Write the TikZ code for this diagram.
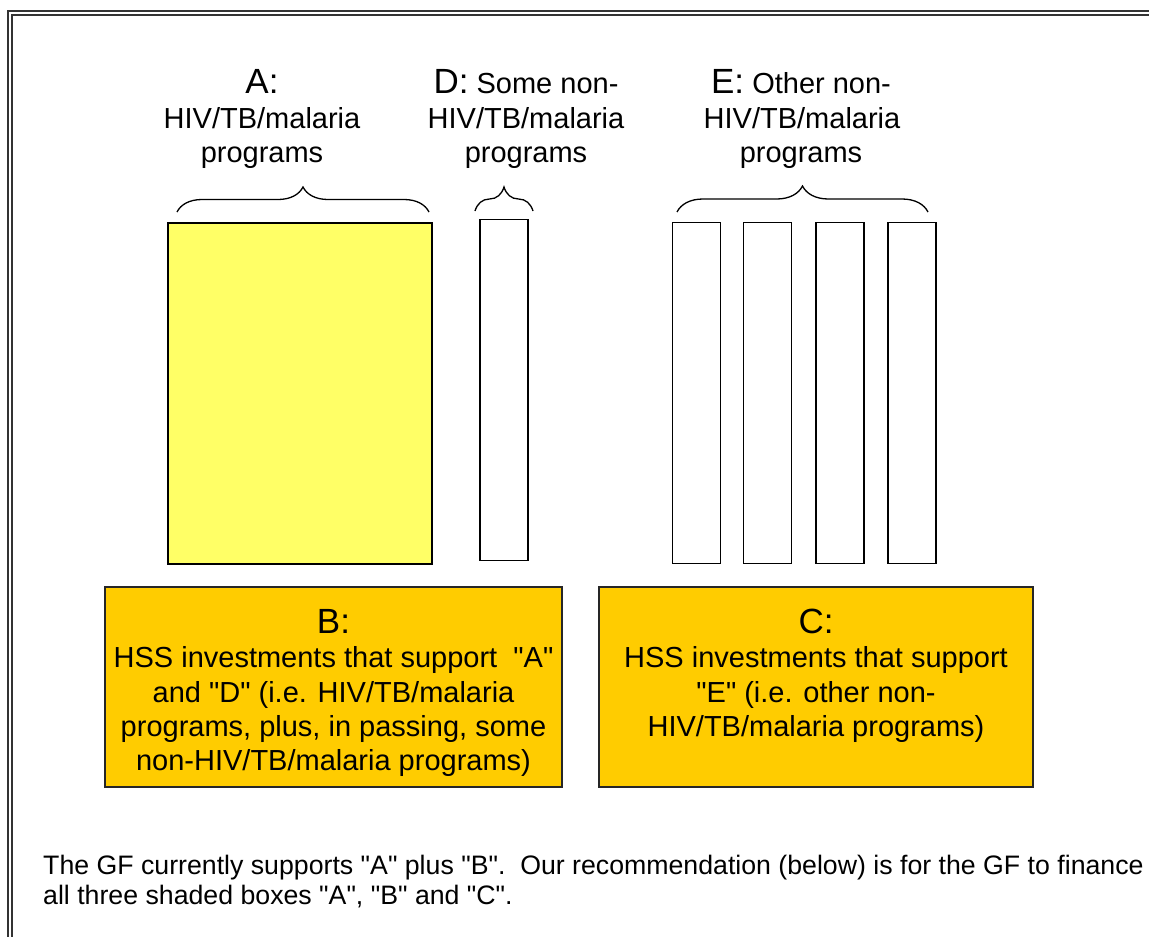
\documentclass[tikz,border=0pt]{standalone}
\usepackage{fontspec}
\setmainfont{Liberation Sans}[Ligatures=TeXOff]
\usetikzlibrary{decorations.pathreplacing}
\definecolor{ayellow}{HTML}{FFFF66}
\definecolor{borange}{HTML}{FFCC00}
\newcommand{\bigletter}[1]{{\fontsize{35}{40}\selectfont #1}}
\begin{document}
\begin{tikzpicture}[x=1pt,y=-1pt,
  progbox/.style={draw=black, line width=1.3pt, fill=white, inner sep=0pt, minimum width=48pt, minimum height=341pt},
  hssbox/.style={draw=black!85, line width=1.3pt, fill=borange, inner sep=0pt},
  bracepath/.style={decorate, decoration={brace, amplitude=25pt}, line width=1.3pt},
  lbl/.style={anchor=base, inner sep=0pt, font=\fontsize{29}{34}\selectfont},
  lblw/.style={anchor=base west, inner sep=0pt, font=\fontsize{26.7}{31}\selectfont},
  frameline/.style={line width=1.5pt, draw=black!80}
]
% background / bounding box
\fill[white] (0,0) rectangle (1149,937);
\useasboundingbox (0,0) rectangle (1149,937);
% frame
\coordinate (fo1) at (8,937); \coordinate (fo2) at (8,11); \coordinate (fo3) at (1149,11);
\coordinate (fi1) at (12,937); \coordinate (fi2) at (12,15); \coordinate (fi3) at (1149,15);
\draw[frameline] (fo1) -- (fo2) -- (fo3);
\draw[frameline] (fi1) -- (fi2) -- (fi3);

% program boxes
\node[progbox, fill=ayellow, minimum width=264pt] (A) at (300,393.5) {};
\node[progbox, minimum height=341pt] (D) at (504,390) {};
\node[progbox] (E1) at (696.5,393) {};
\node[progbox] (E2) at (767.5,393) {};
\node[progbox] (E3) at (840,393) {};
\node[progbox] (E4) at (912,393) {};

% braces
\coordinate (bA1) at (177,212); \coordinate (bA2) at (429,212);
\coordinate (bD1) at (475,211); \coordinate (bD2) at (533,211);
\coordinate (bE1) at (677,212); \coordinate (bE2) at (928,212);
\draw[bracepath] (bA1) -- (bA2);
\draw[bracepath, decoration={brace, amplitude=24pt}] (bD1) -- (bD2);
\draw[bracepath, decoration={brace, amplitude=26pt}] (bE1) -- (bE2);

% top labels
\node[lbl] (la1) at (262,93) {\bigletter{A:}};
\node[lbl] (la2) at (262,128) {HIV/TB/malaria};
\node[lbl] (la3) at (262,162) {programs};
\node[lbl] (ld1) at (526,93) {\bigletter{D:} Some non-};
\node[lbl] (ld2) at (526,128) {HIV/TB/malaria};
\node[lbl] (ld3) at (526,162) {programs};
\node[lbl] (le1) at (801,93) {\bigletter{E:} Other non-};
\node[lbl] (le2) at (802,128) {HIV/TB/malaria};
\node[lbl] (le3) at (801,162) {programs};

% HSS boxes
\node[hssbox, minimum width=457pt, minimum height=200pt] (B) at (333.5,687) {};
\node[hssbox, minimum width=434pt, minimum height=200pt] (C) at (816,687) {};

\node[lbl] (lb0) at (333.5,633) {\bigletter{B:}};
\node[lbl] (lb1) at (333.5,667) {HSS investments that support~~"A"};
\node[lbl] (lb2) at (333.5,702) {and "D" (i.e. HIV/TB/malaria};
\node[lbl] (lb3) at (333.5,736) {programs, plus, in passing, some};
\node[lbl] (lb4) at (333.5,770) {non-HIV/TB/malaria programs)};

\node[lbl] (lc0) at (816,633) {\bigletter{C:}};
\node[lbl] (lc1) at (816,667) {HSS investments that support};
\node[lbl] (lc2) at (816,702) {"E" (i.e. other non-};
\node[lbl] (lc3) at (816,736) {HIV/TB/malaria programs)};

% bottom note
\node[lblw] (n1) at (43,874) {The GF currently supports "A" plus "B".~~Our recommendation (below) is for the GF to finance};
\node[lblw] (n2) at (43,904) {all three shaded boxes "A", "B" and "C".};
\end{tikzpicture}
\end{document}
